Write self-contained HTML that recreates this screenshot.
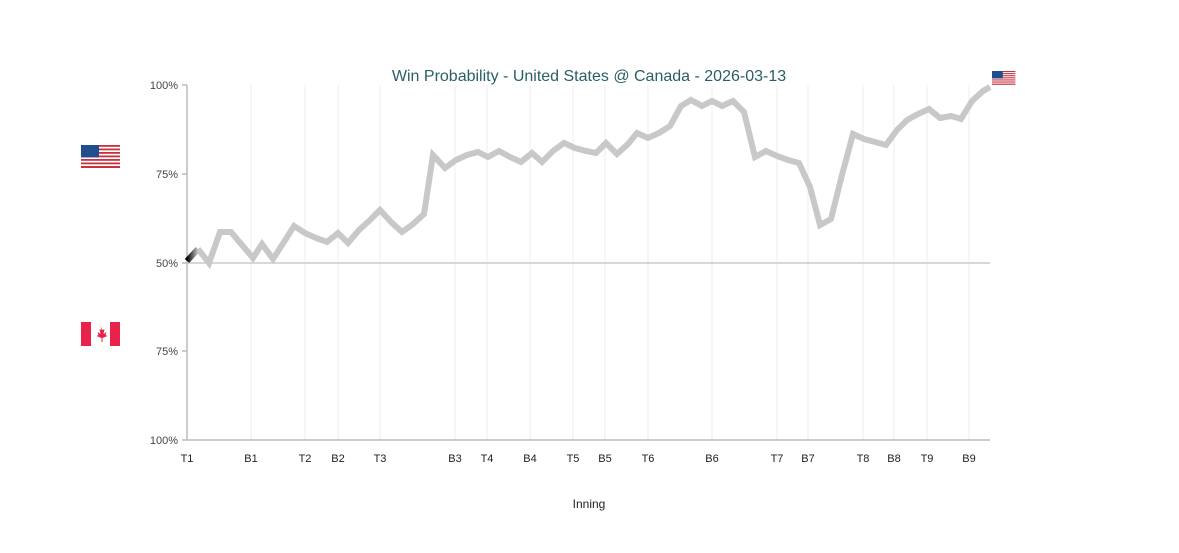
<!DOCTYPE html>
<html><head><style>body{margin:0;background:#fff}svg{display:block;font-family:"Liberation Sans",sans-serif}</style></head><body>
<svg width="1179" height="553" viewBox="0 0 1179 553">
<defs>
<linearGradient id="st" x1="0" x2="1"><stop offset="0" stop-color="#000"/><stop offset="1" stop-color="#c8c8c8"/></linearGradient>
<g id="us"><rect width="39" height="23" fill="#fff"/><g fill="#c8313e"><rect y="0" width="39" height="1.8"/><rect y="3.5" width="39" height="1.8"/><rect y="7" width="39" height="1.8"/><rect y="10.5" width="39" height="1.8"/><rect y="14" width="39" height="1.8"/><rect y="17.5" width="39" height="1.8"/><rect y="21" width="39" height="2"/></g><rect width="18" height="12.4" fill="#1f4e8c"/></g>
</defs>
<g stroke="#eee" stroke-width="1">
<line x1="251" y1="85" x2="251" y2="440"/><line x1="305" y1="85" x2="305" y2="440"/><line x1="338" y1="85" x2="338" y2="440"/><line x1="380" y1="85" x2="380" y2="440"/><line x1="455" y1="85" x2="455" y2="440"/><line x1="487" y1="85" x2="487" y2="440"/><line x1="530" y1="85" x2="530" y2="440"/><line x1="573" y1="85" x2="573" y2="440"/><line x1="605" y1="85" x2="605" y2="440"/><line x1="648" y1="85" x2="648" y2="440"/><line x1="712" y1="85" x2="712" y2="440"/><line x1="777" y1="85" x2="777" y2="440"/><line x1="808" y1="85" x2="808" y2="440"/><line x1="863" y1="85" x2="863" y2="440"/><line x1="894" y1="85" x2="894" y2="440"/><line x1="927" y1="85" x2="927" y2="440"/><line x1="969" y1="85" x2="969" y2="440"/>
</g>
<g stroke="#bbb" stroke-width="1.5" fill="none">
<line x1="187" y1="85" x2="187" y2="440"/><line x1="187" y1="440" x2="990" y2="440"/><line x1="187" y1="263" x2="990" y2="263" stroke="#ccc"/>
<line x1="182" y1="85" x2="187" y2="85"/><line x1="182" y1="174" x2="187" y2="174"/><line x1="182" y1="263" x2="187" y2="263"/><line x1="182" y1="351" x2="187" y2="351"/><line x1="182" y1="440" x2="187" y2="440"/>
</g>
<g font-size="11" fill="#444" text-anchor="end">
<text x="178" y="89">100%</text><text x="178" y="178">75%</text><text x="178" y="267">50%</text><text x="178" y="355">75%</text><text x="178" y="444">100%</text>
</g>
<g font-size="11" fill="#222" text-anchor="middle">
<text x="187" y="462">T1</text><text x="251" y="462">B1</text><text x="305" y="462">T2</text><text x="338" y="462">B2</text><text x="380" y="462">T3</text><text x="455" y="462">B3</text><text x="487" y="462">T4</text><text x="530" y="462">B4</text><text x="573" y="462">T5</text><text x="605" y="462">B5</text><text x="648" y="462">T6</text><text x="712" y="462">B6</text><text x="777" y="462">T7</text><text x="808" y="462">B7</text><text x="863" y="462">T8</text><text x="894" y="462">B8</text><text x="927" y="462">T9</text><text x="969" y="462">B9</text>
<text x="589" y="508" font-size="12">Inning</text>
</g>
<text x="589" y="81" text-anchor="middle" font-size="16" fill="#2a5f66">Win Probability - United States @ Canada - 2026-03-13</text>
<polyline fill="none" stroke="#c8c8c8" stroke-width="6" stroke-linejoin="miter" points="198,249 209,263 220,232 231,232 242,245 253,258 262,244 273,259 284,242 294,226 305,233 316,238 327,242 338,233 348,243 359,230 369,221 380,210 391,222 402,232 413,224 424,214 433,155 445,168 456,160 467,155 478,152 488,157 499,151 510,157 521,162 532,153 542,162 553,151 564,143 575,148 586,151 596,153 606,143 617,154 628,144 637,133 648,138 659,133 670,126 681,106 691,100 702,106 712,101 722,106 733,101 744,112 755,157 766,151 777,156 788,160 799,163 810,187 820,225 831,219 842,175 853,134 864,139 875,142 886,145 897,130 907,120 918,114 929,109 940,118 951,116 961,119 972,101 983,91 990,87"/>
<line x1="187" y1="261" x2="198" y2="249" stroke="url(#st)" stroke-width="6"/>
<use href="#us" x="81" y="145"/>
<g transform="translate(992,71) scale(0.6)"><use href="#us"/></g>
<rect x="81" y="322" width="39" height="24" fill="#fff"/><rect x="81" y="322" width="10" height="24" fill="#e8224a"/><rect x="110" y="322" width="10" height="24" fill="#e8224a"/>
<path d="M100.5 326 l2 4 2-1 -1 5 3-2 -1 3 2 1 -5 2 0 4 h-1 v-4 l-5-2 2-1 -1-3 3 2 -1-5 2 1z" fill="#e8224a"/>
</svg>
</body></html>
